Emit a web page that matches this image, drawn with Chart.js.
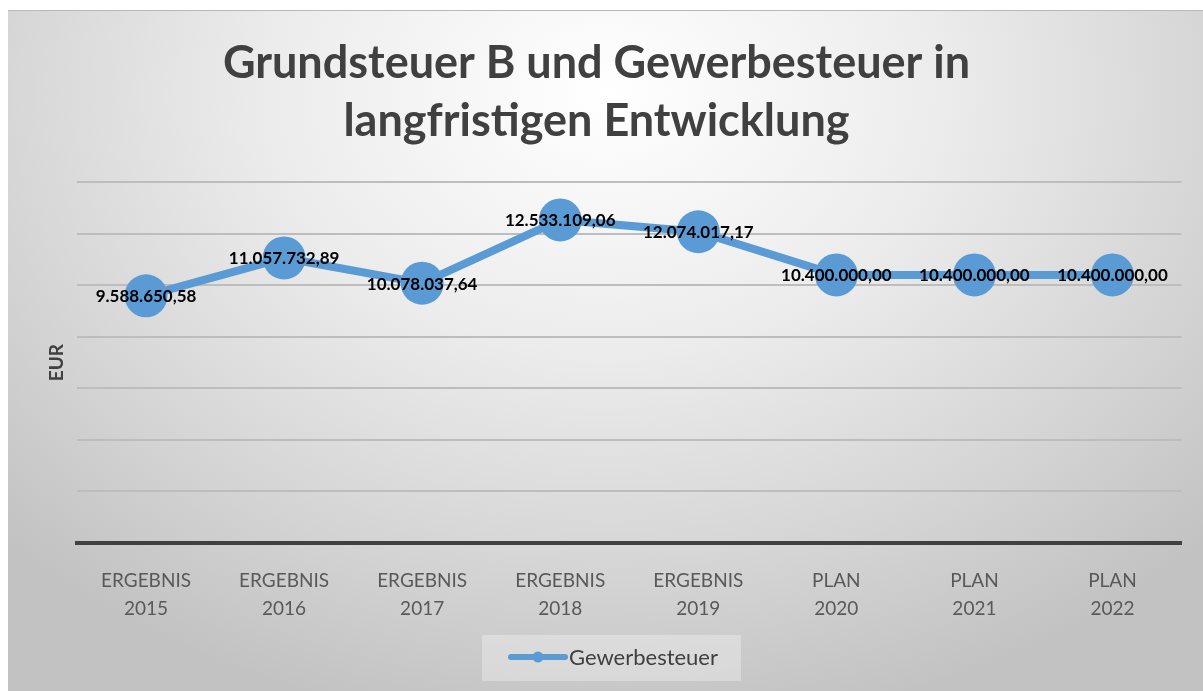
<!DOCTYPE html>
<html>
<head>
<meta charset="utf-8">
<script src="https://cdn.jsdelivr.net/npm/chart.js@4"></script>
<style>
  body { margin: 0; background: #fff; }
  #rahmen {
    position: absolute; left: 8px; top: 10px; width: 1195px; height: 681px;
    background: radial-gradient(ellipse 70% 95% at 50% 12%, #ffffff 0%, #ececec 40%, #d4d4d4 75%, #c2c2c2 100%);
  }
  #linie { position: absolute; left: 8px; top: 10px; width: 1195px; height: 1px; background: #b8b8b8; }
</style>
</head>
<body>
<div id="rahmen"><canvas id="grafik"></canvas></div>
<div id="linie"></div>
<script>
// DATEN
const kategorien = [
  ['ERGEBNIS', '2015'], ['ERGEBNIS', '2016'], ['ERGEBNIS', '2017'], ['ERGEBNIS', '2018'],
  ['ERGEBNIS', '2019'], ['PLAN', '2020'], ['PLAN', '2021'], ['PLAN', '2022']
];
const gewerbesteuer = [9588650.58, 11057732.89, 10078037.64, 12533109.06, 12074017.17, 10400000, 10400000, 10400000];
const yMin = 0, yMax = 14000000, ySchritt = 2000000;

const blau = '#5B9BD5';
const schrift = 'Lato, "Noto Sans", sans-serif';
const fmt = new Intl.NumberFormat('de-DE', { minimumFractionDigits: 2, maximumFractionDigits: 2 });

// Werte-Beschriftungen
const wertePlugin = {
  id: 'werte',
  afterDatasetsDraw(chart) {
    const ctx = chart.ctx;
    const meta = chart.getDatasetMeta(0);
    ctx.save();
    ctx.font = 'bold 17px ' + schrift;
    ctx.fillStyle = '#000';
    ctx.textAlign = 'center';
    ctx.textBaseline = 'middle';
    meta.data.forEach((p, i) => {
      ctx.fillText(fmt.format(gewerbesteuer[i]), p.x, p.y + 1);
    });
    ctx.restore();
  }
};

// eigene Legende mit Kasten
const legendePlugin = {
  id: 'legende',
  afterDraw(chart) {
    const ctx = chart.ctx;
    ctx.save();
    ctx.fillStyle = 'rgba(255,255,255,0.3)';
    ctx.fillRect(474, 625, 259, 46);
    ctx.strokeStyle = blau;
    ctx.lineWidth = 6;
    ctx.lineCap = 'round';
    ctx.beginPath();
    ctx.moveTo(503, 647);
    ctx.lineTo(557, 647);
    ctx.stroke();
    ctx.fillStyle = blau;
    ctx.beginPath();
    ctx.arc(530, 647, 5.5, 0, Math.PI * 2);
    ctx.fill();
    ctx.font = '22px ' + schrift;
    ctx.fillStyle = '#404040';
    ctx.textAlign = 'left';
    ctx.textBaseline = 'middle';
    ctx.fillText('Gewerbesteuer', 561, 648);
    ctx.restore();
  }
};

new Chart(document.getElementById('grafik'), {
  type: 'line',
  data: {
    labels: kategorien,
    datasets: [{
      label: 'Gewerbesteuer',
      data: gewerbesteuer,
      borderColor: blau,
      backgroundColor: blau,
      borderWidth: 8,
      pointRadius: 21.5,
      pointHoverRadius: 21.5,
      pointBackgroundColor: blau,
      pointBorderWidth: 0,
      tension: 0
    }]
  },
  options: {
    responsive: true,
    maintainAspectRatio: false,
    animation: false,
    layout: { padding: { left: 0, right: 18, top: 0, bottom: 0 } },
    plugins: {
      legend: { display: false },
      tooltip: { enabled: false },
      title: {
        display: true,
        text: ['Grundsteuer B und Gewerbesteuer in', 'langfristigen Entwicklung'],
        color: '#404040',
        font: { family: schrift, size: 45, weight: 'bold', lineHeight: 1.29 },
        padding: { top: 24, bottom: 32 }
      }
    },
    scales: {
      x: {
        offset: true,
        grid: { display: false },
        border: { display: true, color: '#404040', width: 4 },
        ticks: {
          color: '#595959',
          font: { family: schrift, size: 19, lineHeight: 1.47 },
          padding: 16,
          maxRotation: 0
        },
        afterFit: s => { s.height = 148; }
      },
      y: {
        min: yMin,
        max: yMax,
        ticks: { display: false, stepSize: ySchritt },
        grid: { color: '#bdbdbd', lineWidth: 2, drawTicks: false },
        border: { display: false },
        title: {
          display: true,
          text: 'EUR',
          color: '#404040',
          font: { family: schrift, size: 19, weight: 'bold' },
          padding: { top: 37, bottom: 0 }
        },
        afterFit: s => { s.width = 69; }
      }
    }
  },
  plugins: [wertePlugin, legendePlugin]
});
</script>
</body>
</html>
